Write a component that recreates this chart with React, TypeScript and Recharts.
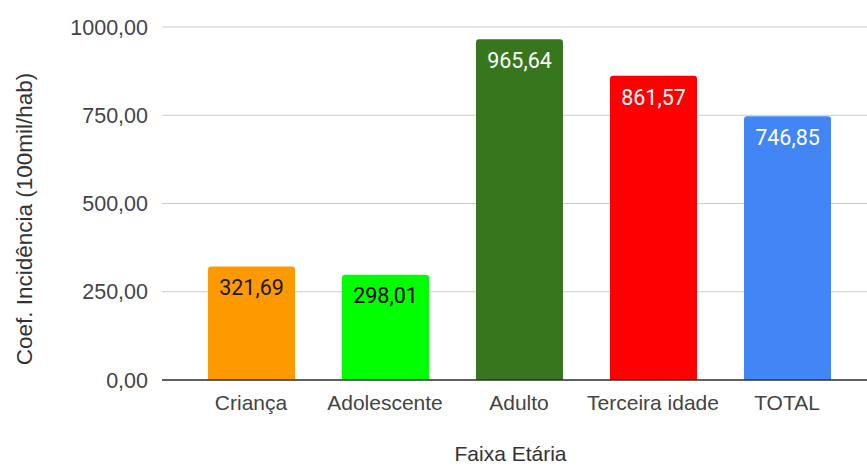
import { BarChart, Bar, XAxis, YAxis, CartesianGrid, Cell, LabelList } from 'recharts'

const categories = ['Criança', 'Adolescente', 'Adulto', 'Terceira idade', 'TOTAL']
const values = [321.69, 298.01, 965.64, 861.57, 746.85]
const barColors = ['#ff9900', '#00ff00', '#38761d', '#ff0000', '#4285f4']
const labelColors = ['#1a1a1a', '#000000', '#ffffff', '#ffffff', '#ffffff']
const yTicks = [0, 250, 500, 750, 1000]

const data = categories.map((name, i) => ({ name, value: values[i] }))

const fmt = (v: number) => v.toFixed(2).replace('.', ',')
const AXIS_FONT = '"Liberation Sans", Arial, sans-serif'
const LABEL_FONT = 'Roboto, Arial, sans-serif'

function ValueLabel(props: any) {
  const { x, y, width, value, index } = props
  return (
    <text
      x={x + width / 2}
      y={y + 23}
      textAnchor="middle"
      dominantBaseline="middle"
      fill={labelColors[index]}
      fontSize={21.5}
      fontFamily={LABEL_FONT}
    >
      {fmt(value)}
    </text>
  )
}

export default function App() {
  return (
    <div style={{ position: 'absolute', left: 0, top: 0, width: 867, height: 468, background: '#fff' }}>
      <BarChart width={867} height={468} data={data} margin={{ top: 27, right: 0, bottom: 0, left: 0 }}>
        <CartesianGrid vertical={false} stroke="#cccccc" />
        <XAxis
          dataKey="name"
          height={88}
          padding={{ left: 22, right: 13 }}
          tickLine={false}
          axisLine={{ stroke: '#333333', strokeWidth: 1.5 }}
          tickMargin={9}
          tick={{ fontSize: 21, fill: '#444444', fontFamily: AXIS_FONT }}
          label={({ viewBox }: any) => (
            <text
              x={viewBox.x + viewBox.width / 2 - 4}
              y={461}
              textAnchor="middle"
              fontSize={21}
              fill="#333333"
              fontFamily={AXIS_FONT}
            >
              Faixa Etária
            </text>
          )}
        />
        <YAxis
          width={162}
          domain={[0, 1000]}
          ticks={yTicks}
          tickFormatter={fmt}
          tickLine={false}
          axisLine={false}
          tickMargin={8}
          tick={{ fontSize: 21.5, fill: '#444444', fontFamily: AXIS_FONT }}
          label={() => (
            <text
              transform="translate(32, 219) rotate(-90)"
              textAnchor="middle"
              fontSize={22.5}
              fill="#333333"
              fontFamily={AXIS_FONT}
            >
              Coef. Incidência (100mil/hab)
            </text>
          )}
        />
        <Bar dataKey="value" barSize={87} radius={[3, 3, 0, 0]} isAnimationActive={false}>
          {data.map((_, i) => (
            <Cell key={i} fill={barColors[i]} />
          ))}
          <LabelList dataKey="value" content={ValueLabel} />
        </Bar>
      </BarChart>
    </div>
  )
}
